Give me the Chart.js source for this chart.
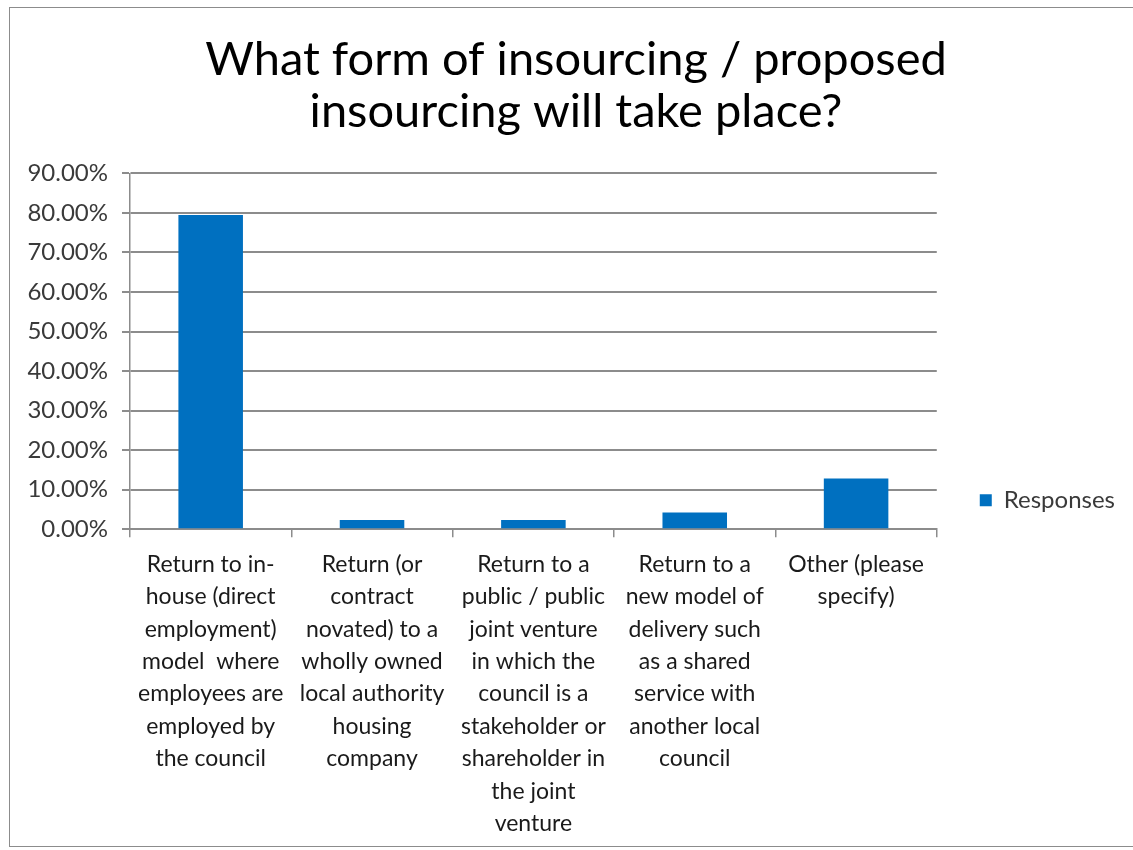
<!DOCTYPE html>
<html>
<head>
<meta charset="utf-8">
<script src="https://cdn.jsdelivr.net/npm/chart.js@4"></script>
<style>
  html, body { margin: 0; padding: 0; background: #fff; overflow: hidden; }
  .frame {
    position: absolute; left: 9px; top: 7px;
    width: 1132px; height: 838px;
    border: 1px solid #8c8c8c;
  }
  #chart { position: absolute; left: 10px; top: 8px; }
</style>
</head>
<body>
<div class="frame"></div>
<canvas id="chart" width="1132" height="843"></canvas>
<script>
const categories = [
  ["Return to in-", "house (direct", "employment)", "model  where", "employees are", "employed by", "the council"],
  ["Return (or", "contract", "novated) to a", "wholly owned", "local authority", "housing", "company"],
  ["Return to a", "public / public", "joint venture", "in which the", "council is a", "stakeholder or", "shareholder in", "the joint", "venture"],
  ["Return to a", "new model of", "delivery such", "as a shared", "service with", "another local", "council"],
  ["Other (please", "specify)"]
];
const responses = [79.5, 2.3, 2.3, 4.2, 12.8];
const titleLines = ["What form of insourcing / proposed", "insourcing will take place?"];

const FONT = "Lato, 'Liberation Sans', sans-serif";

const ctx = document.getElementById("chart").getContext("2d");
new Chart(ctx, {
  type: "bar",
  data: {
    labels: categories,
    datasets: [{
      label: "Responses",
      data: responses,
      backgroundColor: "#0070C0",
      categoryPercentage: 1,
      barPercentage: 0.4
    }]
  },
  options: {
    responsive: false,
    animation: false,
    // same padding both sides keeps the title centred on the frame
    layout: { padding: { left: 17, right: 17, top: 0, bottom: 0 } },
    scales: {
      x: {
        grid: {
          display: true,
          drawOnChartArea: false,
          drawTicks: true,
          tickLength: 8,
          color: "#8c8c8c",
          lineWidth: 1.5
        },
        border: { color: "#8c8c8c", width: 2 },
        ticks: {
          autoSkip: false,
          maxRotation: 0,
          minRotation: 0,
          padding: 11,
          color: "#1a1a1a",
          font: { family: FONT, size: 23, lineHeight: 1.41 }
        }
      },
      y: {
        min: 0,
        max: 90,
        afterFit(scale) { scale.width = 103; },
        grid: {
          color: "#8c8c8c",
          lineWidth: 2,
          drawTicks: true,
          tickLength: 8
        },
        border: { color: "#8c8c8c", width: 1.5 },
        ticks: {
          stepSize: 10,
          padding: 14,
          color: "#3a3a3a",
          font: { family: FONT, size: 24 },
          callback: (v) => v.toFixed(2) + "%"
        }
      },
      // empty spacer between plot area and legend
      gap: {
        type: "linear",
        position: "right",
        display: true,
        afterFit(scale) { scale.width = 26; },
        grid: { display: false },
        border: { display: false },
        ticks: { display: false }
      }
    },
    plugins: {
      title: {
        display: true,
        text: titleLines,
        color: "#000",
        font: { family: FONT, size: 47, weight: "normal", lineHeight: 1.1 },
        padding: { top: 26, bottom: 36 }
      },
      legend: {
        display: true,
        position: "right",
        align: "end",
        fullSize: false,
        labels: {
          boxWidth: 12,
          boxHeight: 12,
          padding: 17,
          color: "#3a3a3a",
          font: { family: FONT, size: 24 }
        }
      },
      tooltip: { enabled: false }
    }
  }
});
</script>
</body>
</html>
